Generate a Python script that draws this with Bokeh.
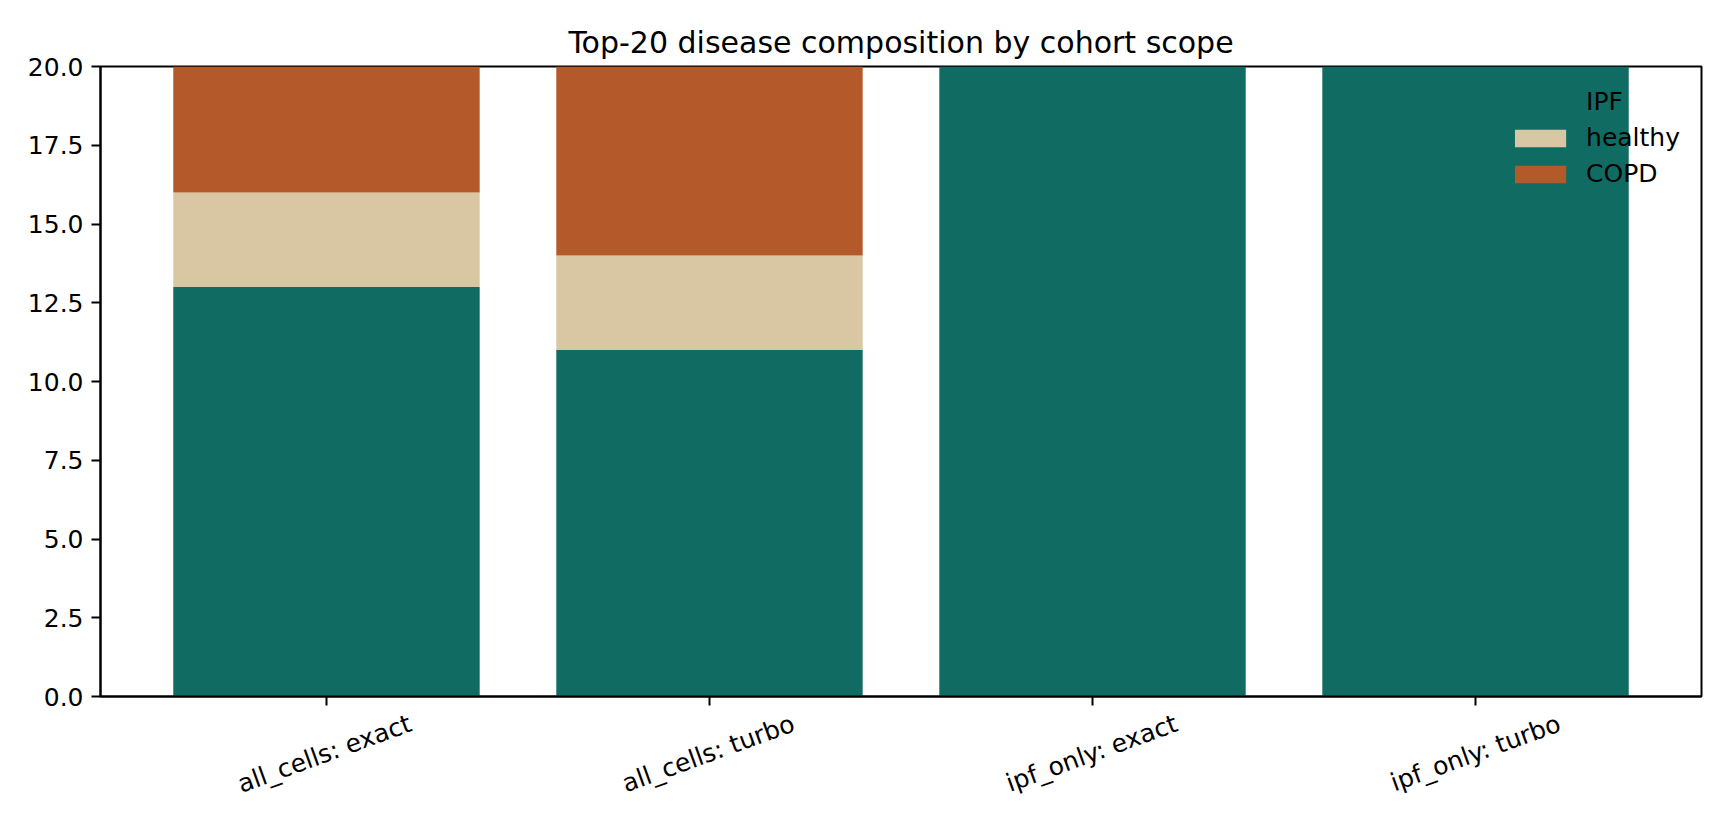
from math import radians

from bokeh.embed import file_html
from bokeh.models import ColumnDataSource, FixedTicker, Legend, Range1d, CustomJSTickFormatter
from bokeh.plotting import figure
from bokeh.resources import INLINE

categories = ["all_cells: exact", "all_cells: turbo", "ipf_only: exact", "ipf_only: turbo"]
diseases = ["IPF", "healthy", "COPD"]
ipf = [13, 11, 20, 20]
healthy = [3, 3, 0, 0]
copd = [4, 6, 0, 0]
colors = ["#106c62", "#d9c7a3", "#b45a2a"]
yTicks = [0, 2.5, 5, 7.5, 10, 12.5, 15, 17.5, 20]

fontName = "DejaVu Sans"
tickSize = "25px"
# bokeh right-aligns rotated tick labels at the tick; nudge them so they sit centred like matplotlib
labelShift = 0.219

xs = list(range(len(categories)))
source = ColumnDataSource(data=dict(x=xs, IPF=ipf, healthy=healthy, COPD=copd))

p = figure(
	title="Top-20 disease composition by cohort scope",
	x_range=Range1d(-0.59, len(categories) - 1 + 0.59),
	y_range=Range1d(0, 20),
	frame_width=1601, frame_height=630,
	min_border_left=100, min_border_top=66, min_border_right=19, min_border_bottom=120,
	output_backend="svg", toolbar_location=None,
)
p.title.align = "center"
p.title.text_font = fontName
p.title.text_font_size = "30px"
p.title.text_font_style = "normal"
p.title.text_color = "black"
p.title.standoff = 13

renderers = p.vbar_stack(diseases, x="x", width=0.8, color=colors, source=source, line_width=0)

p.xgrid.grid_line_color = None
p.ygrid.grid_line_color = None
p.outline_line_color = "black"
p.outline_line_width = 2
p.outline_line_alpha = 1

for ax in [p.xaxis[0], p.yaxis[0]]:
	ax.axis_line_width = 2
	ax.axis_line_color = "black"
	ax.major_tick_line_width = 2
	ax.major_tick_line_color = "black"
	ax.major_tick_out = 9
	ax.major_tick_in = 0
	ax.minor_tick_line_color = None
	ax.major_label_text_font = fontName
	ax.major_label_text_font_size = tickSize
	ax.major_label_text_color = "black"
	ax.major_label_standoff = 8

# x axis: visible ticks are the minor ticks at the bar centres, labels sit on shifted major ticks
shifted = [x + labelShift for x in xs]
p.xaxis.ticker = FixedTicker(ticks=shifted, minor_ticks=xs)
p.xaxis.major_label_overrides = {s: c for s, c in zip(shifted, categories)}
p.xaxis.major_label_orientation = radians(20)
p.xaxis.major_tick_line_color = None
p.xaxis.minor_tick_line_color = "black"
p.xaxis.minor_tick_line_width = 2
p.xaxis.minor_tick_out = 9
p.xaxis.minor_tick_in = 0
p.xaxis.major_label_standoff = 17

p.yaxis.ticker = FixedTicker(ticks=yTicks)
p.yaxis.formatter = CustomJSTickFormatter(code="return tick.toFixed(1);")

legend = Legend(items=[(d, [r]) for d, r in zip(diseases, renderers)], location="top_right")
legend.border_line_color = None
legend.background_fill_alpha = 0
legend.label_text_font = fontName
legend.label_text_font_size = tickSize
legend.label_text_color = "black"
legend.glyph_width = 64
legend.glyph_height = 22
legend.label_standoff = 14
legend.spacing = 7
legend.padding = 10
legend.margin = 21
p.add_layout(legend)

open("out.html", "w").write(file_html(p, INLINE))
